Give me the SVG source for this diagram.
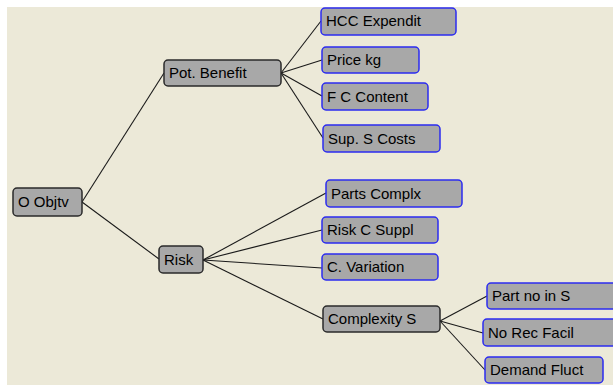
<svg xmlns="http://www.w3.org/2000/svg" width="613" height="385" viewBox="0 0 613 385">
  <style>
    .bg { fill: #ECE9D8; }
    .node rect { fill: #A8A8A8; stroke-width: 1.5; }
    .inner rect { stroke: #2A2A2A; }
    .leaf rect { stroke: #2B2BF0; }
    .node text { font-family: "Liberation Sans", Arial, sans-serif; font-size: 15px; fill: #000; }
    #connectors line { stroke: #1A1A1A; stroke-width: 1.1; }
  </style>
  <rect x="0" y="0" width="613" height="385" fill="#FFFFFF"/>
  <rect class="bg" x="7" y="7" width="606" height="378"/>

  <g id="connectors">
    <line x1="82" y1="202" x2="164" y2="73"/>
    <line x1="82" y1="202" x2="159" y2="259"/>
    <line x1="281" y1="73" x2="321" y2="21"/>
    <line x1="281" y1="73" x2="322" y2="60"/>
    <line x1="281" y1="73" x2="322" y2="96"/>
    <line x1="281" y1="73" x2="323" y2="138"/>
    <line x1="203" y1="260" x2="326" y2="193"/>
    <line x1="203" y1="260" x2="322" y2="230"/>
    <line x1="203" y1="260" x2="322" y2="268"/>
    <line x1="203" y1="260" x2="323" y2="319"/>
    <line x1="440" y1="321" x2="487" y2="296"/>
    <line x1="440" y1="321" x2="483" y2="333"/>
    <line x1="440" y1="321" x2="485" y2="370"/>
  </g>

  <g id="n-objtv" class="node inner">
    <rect x="13" y="188" width="69" height="28" rx="4"/>
    <text x="18" y="207">O Objtv</text>
  </g>
  <g id="n-potbenefit" class="node inner">
    <rect x="164" y="60" width="117" height="26" rx="4"/>
    <text x="169" y="78">Pot. Benefit</text>
  </g>
  <g id="n-hcc" class="node leaf">
    <rect x="321" y="8" width="135" height="27" rx="4"/>
    <text x="326" y="26">HCC Expendit</text>
  </g>
  <g id="n-price" class="node leaf">
    <rect x="322" y="47" width="97" height="26" rx="4"/>
    <text x="327" y="65">Price kg</text>
  </g>
  <g id="n-fc" class="node leaf">
    <rect x="322" y="83" width="106" height="27" rx="4"/>
    <text x="327" y="102">F C Content</text>
  </g>
  <g id="n-sup" class="node leaf">
    <rect x="323" y="125" width="117" height="27" rx="4"/>
    <text x="328" y="144">Sup. S Costs</text>
  </g>
  <g id="n-risk" class="node inner">
    <rect x="159" y="246" width="44" height="27" rx="4"/>
    <text x="164" y="265">Risk</text>
  </g>
  <g id="n-parts" class="node leaf">
    <rect x="326" y="180" width="136" height="27" rx="4"/>
    <text x="331" y="199">Parts Complx</text>
  </g>
  <g id="n-riskc" class="node leaf">
    <rect x="322" y="217" width="116" height="26" rx="4"/>
    <text x="327" y="235">Risk C Suppl</text>
  </g>
  <g id="n-cvar" class="node leaf">
    <rect x="322" y="254" width="116" height="26" rx="4"/>
    <text x="327" y="272">C. Variation</text>
  </g>
  <g id="n-complexity" class="node inner">
    <rect x="323" y="306" width="117" height="26" rx="4"/>
    <text x="328" y="324">Complexity S</text>
  </g>
  <g id="n-partno" class="node leaf">
    <rect x="487" y="283" width="140" height="26" rx="4"/>
    <text x="492" y="301">Part no in S</text>
  </g>
  <g id="n-norec" class="node leaf">
    <rect x="483" y="319" width="140" height="27" rx="4"/>
    <text x="488" y="338">No Rec Facil</text>
  </g>
  <g id="n-demand" class="node leaf">
    <rect x="485" y="357" width="118" height="26" rx="4"/>
    <text x="490" y="375">Demand Fluct</text>
  </g>
</svg>
